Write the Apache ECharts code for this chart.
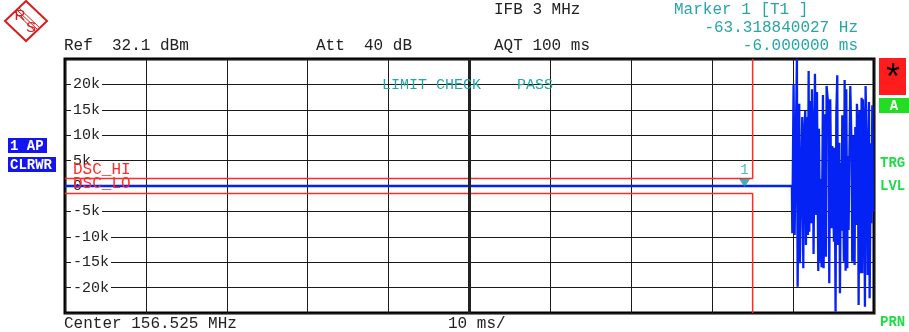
<!DOCTYPE html>
<html>
<head>
<meta charset="utf-8">
<script src="https://cdn.jsdelivr.net/npm/echarts@6/dist/echarts.min.js"></script>
<style>
  html, body { margin: 0; padding: 0; background: #fff; }
  #chart { width: 909px; height: 332px; }
</style>
</head>
<body>
<div id="chart"></div>
<script>
// Time axis (ms relative to trigger) and FM deviation (Hz)
const timeMin = -90;
const timeMax = 10;
const timeStep = 10;
const devMin = -25000;
const devMax = 25000;
const devStep = 5000;
const devTickLabels = [-20000, -15000, -10000, -5000, 0, 5000, 10000, 15000, 20000];

// Trace 1 (clear/write): flat until the burst, then demodulated FM deviation
const traceTime = [
  -90, -0.15, -0.10, 0.06, 0.19, 0.31, 0.47, 0.56, 0.76, 0.84,
  1.13, 1.26, 1.34, 1.50, 1.59, 1.71, 1.83, 1.92, 2.00, 2.08,
  2.25, 2.33, 2.45, 2.53, 2.70, 2.86, 2.95, 3.11, 3.19, 3.36,
  3.44, 3.52, 3.69, 3.77, 3.93, 4.06, 4.14, 4.39, 4.47, 4.59,
  4.76, 4.84, 5.05, 5.13, 5.25, 5.34, 5.46, 5.54, 5.71, 5.79,
  5.91, 6.00, 6.08, 6.28, 6.37, 6.49, 6.57, 6.70, 6.74, 6.86,
  6.94, 7.07, 7.24, 7.31, 7.44, 7.60, 7.69, 7.81, 7.89, 8.01,
  8.10, 8.22, 8.31, 8.47, 8.55, 8.63, 8.76, 8.88, 8.96, 9.13,
  9.21, 9.38, 9.46, 9.62, 9.70, 9.79, 9.87
];
const traceDev = [
  0, 0, -9320, 20020, -9650, 5900, 24940, -19820, 16200, -15220,
  13580, -16200, 8860, 14760, -11610, 13580, -9650, 22640, -8990, 16730,
  -7340, 19030, 6560, -13390, 22110, -5710, 18500, -16730, 11280, -14900,
  1380, -16000, 17910, -16200, 14110, -13910, 19690, 15220, -19150, 17060,
  -8330, 7870, -10960, 7540, -24740, 13910, 21790, -11610, 8530, -21120,
  4590, -8790, 13910, -14900, 20870, -16670, 19030, -16200, 5900, -8660,
  3280, 19690, 6560, -14900, 9840, -15550, 11610, -7680, 16200, 10170,
  -23430, 14760, -17190, 17380, -17190, 17060, 9510, -23760, 19690, 5250,
  -17520, 16530, -22110, 8400, -7340, 15880, -5060
];

// Limit lines DSC_HI / DSC_LO
const limitHiTime = [-90, -5, -5];
const limitHiDev = [1500, 1500, 25000];
const limitLoTime = [-90, -5, -5];
const limitLoDev = [-1500, -1500, -25000];

// Marker 1
const markerTime = -6;
const markerDev = 0;

const pairs = (xs, ys) => xs.map((x, i) => [x, ys[i]]);

const MONO = '"Liberation Mono", "DejaVu Sans Mono", monospace';
const TEAL = '#27a6a6';
const RED = '#ff2a2a';
const BLUE = '#0522f5';
const GREEN = '#20dc48';
const LOGO = '#d42020';

const chart = echarts.init(document.getElementById('chart'), null, { renderer: 'canvas' });

function txt(x, y, s, opt) {
  opt = opt || {};
  return {
    type: 'text', x: x, y: y, z: 50, silent: true,
    style: {
      text: s,
      font: (opt.weight || 'normal') + ' ' + (opt.size || 16) + 'px ' + (opt.family || MONO),
      fill: opt.color || '#222',
      textAlign: opt.align || 'left',
      textVerticalAlign: 'middle'
    }
  };
}

function seg(x1, y1, x2, y2, w) {
  return { type: 'line', z: 50, silent: true, shape: { x1: x1, y1: y1, x2: x2, y2: y2 },
    style: { stroke: LOGO, lineWidth: w || 1 } };
}

const graphics = [
  // Rohde & Schwarz logo
  { type: 'polygon', z: 50, silent: true,
    shape: { points: [[26, 1], [47, 21], [26, 41], [5, 21]] },
    style: { fill: 'none', stroke: LOGO, lineWidth: 2 } },
  seg(19, 8, 40, 28),
  seg(17, 10, 38, 30),
  seg(15, 12, 36, 32),
  txt(20, 16, 'R', { color: LOGO, size: 15, family: '"Liberation Sans", sans-serif', align: 'center' }),
  txt(31, 28, 'S', { color: LOGO, size: 15, family: '"Liberation Sans", sans-serif', align: 'center' }),

  // header
  txt(494, 10, 'IFB 3 MHz'),
  txt(64, 46, 'Ref  32.1 dBm'),
  txt(316, 46, 'Att  40 dB'),
  txt(494, 46, 'AQT 100 ms'),
  txt(674, 10, 'Marker 1 [T1 ]', { color: TEAL }),
  txt(858, 28, '-63.318840027 Hz', { color: TEAL, align: 'right' }),
  txt(858, 46, '-6.000000 ms', { color: TEAL, align: 'right' }),

  // footer
  txt(64, 324, 'Center 156.525 MHz'),
  txt(448, 324, '10 ms/'),

  // limit check status
  txt(382, 85, 'LIMIT CHECK    PASS', { color: TEAL, size: 15 }),

  // trace info boxes
  { type: 'rect', z: 50, silent: true, shape: { x: 8, y: 138, width: 39, height: 15 }, style: { fill: '#1414f0' } },
  txt(10, 146, '1 AP', { color: '#fff', weight: 'bold', size: 14 }),
  { type: 'rect', z: 50, silent: true, shape: { x: 8, y: 157, width: 48, height: 15 }, style: { fill: '#1414f0' } },
  txt(10, 165, 'CLRWR', { color: '#fff', weight: 'bold', size: 14 }),

  // right status column
  { type: 'rect', z: 50, silent: true, shape: { x: 879, y: 58, width: 27, height: 37 }, style: { fill: '#ff1c1c' } },
  txt(893, 80, '*', { color: '#000', size: 36, family: '"Liberation Mono", monospace', align: 'center' }),
  { type: 'rect', z: 50, silent: true, shape: { x: 879, y: 98, width: 30, height: 15 }, style: { fill: '#22dd22' } },
  txt(894, 106, 'A', { color: '#fff', weight: 'bold', size: 14, align: 'center' }),
  txt(880, 163, 'TRG', { color: GREEN, weight: 'bold', size: 14 }),
  txt(880, 186, 'LVL', { color: GREEN, weight: 'bold', size: 14 }),
  txt(880, 322, 'PRN', { color: GREEN, weight: 'bold', size: 14 })
];

const option = {
  animation: false,
  backgroundColor: '#fff',
  grid: {
    left: 65, top: 59, width: 809, height: 254,
    show: true, borderColor: '#000', borderWidth: 3, backgroundColor: 'transparent'
  },
  xAxis: {
    type: 'value', min: timeMin, max: timeMax, interval: timeStep,
    axisLine: { show: false }, axisTick: { show: false }, axisLabel: { show: false },
    splitLine: { show: true, lineStyle: { color: '#1a1a1a', width: 1 } }
  },
  yAxis: {
    type: 'value', min: devMin, max: devMax, interval: devStep,
    axisLine: { show: false }, axisTick: { show: false },
    splitLine: { show: true, lineStyle: { color: '#1a1a1a', width: 1 } },
    axisLabel: {
      inside: true, margin: 6, align: 'left',
      fontFamily: 'Liberation Mono', fontSize: 15, color: '#222',
      backgroundColor: '#fff', padding: [0, 2, 0, 2],
      formatter: function (v) {
        if (devTickLabels.indexOf(v) < 0) return '';
        return v === 0 ? '0' : (v / 1000) + 'k';
      }
    }
  },
  graphic: graphics,
  series: [
    {
      name: 'DSC_HI', type: 'line', z: 3,
      data: pairs(limitHiTime, limitHiDev),
      showSymbol: false, lineStyle: { color: RED, width: 1.5 },
      markPoint: {
        symbol: 'circle', symbolSize: 0, silent: true,
        data: [{ coord: [limitHiTime[0], limitHiDev[0]] }],
        label: { show: true, formatter: 'DSC_HI', position: [8, -9], verticalAlign: 'middle',
          color: RED, fontFamily: 'Liberation Mono', fontSize: 16 }
      }
    },
    {
      name: 'DSC_LO', type: 'line', z: 3,
      data: pairs(limitLoTime, limitLoDev),
      showSymbol: false, lineStyle: { color: RED, width: 1.5 },
      markPoint: {
        symbol: 'circle', symbolSize: 0, silent: true,
        data: [{ coord: [limitLoTime[0], limitLoDev[0]] }],
        label: { show: true, formatter: 'DSC_LO', position: [8, -10], verticalAlign: 'middle',
          color: RED, fontFamily: 'Liberation Mono', fontSize: 16 }
      }
    },
    {
      name: 'Trace 1', type: 'line', z: 4,
      data: pairs(traceTime, traceDev),
      showSymbol: false, lineStyle: { color: BLUE, width: 2.3, join: 'miter' },
      markLine: {
        silent: true, symbol: 'none', animation: false,
        label: { show: false },
        lineStyle: { color: '#222', width: 3, type: 'solid' },
        data: [{ xAxis: (timeMin + timeMax) / 2 }]
      }
    },
    {
      name: 'Marker 1', type: 'scatter', z: 5,
      data: [[markerTime, markerDev]],
      symbol: 'triangle', symbolRotate: 180, symbolSize: [11, 8], symbolOffset: [0, -3],
      itemStyle: { color: '#129c9c' },
      label: { show: true, formatter: '1', position: 'top', distance: 2,
        color: TEAL, fontFamily: 'Liberation Mono', fontSize: 14 }
    }
  ]
};

chart.setOption(option);
</script>
</body>
</html>
